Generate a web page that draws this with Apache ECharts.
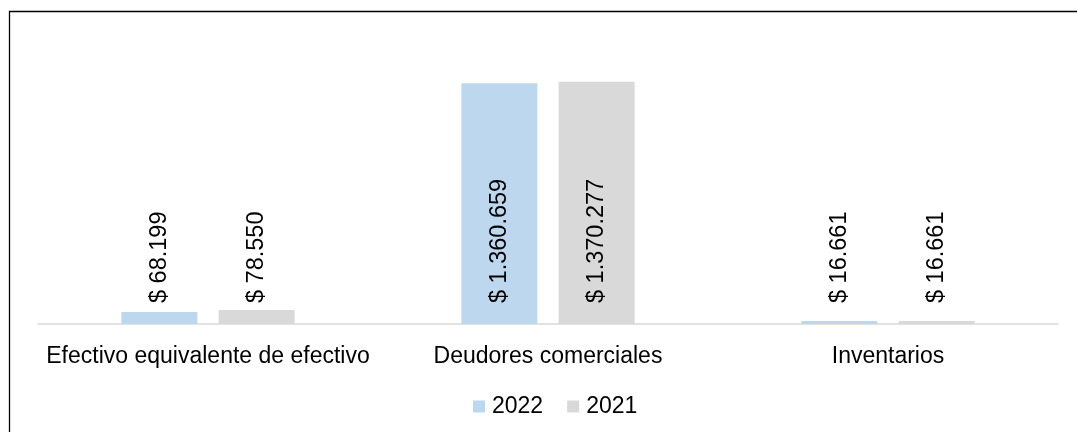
<!DOCTYPE html>
<html>
<head>
<meta charset="utf-8">
<script src="https://cdn.jsdelivr.net/npm/echarts@6/dist/echarts.min.js"></script>
<style>
html,body{margin:0;padding:0;background:#fff;}
#chart{width:1077px;height:432px;}
</style>
</head>
<body>
<div id="chart"></div>
<script>
const categories = ['Efectivo equivalente de efectivo', 'Deudores comerciales', 'Inventarios'];
const seriesNames = ['2022', '2021'];
const values2022 = [68199, 1360659, 16661];
const values2021 = [78550, 1370277, 16661];

function fmt(v) {
  return '$ ' + String(v).replace(/\B(?=(\d{3})+(?!\d))/g, '.');
}

const chart = echarts.init(document.getElementById('chart'), null, {renderer: 'canvas'});
const font = 'Liberation Sans, Arial, sans-serif';
const labelCfg = {
  show: true,
  position: 'insideBottom',
  distance: 21,
  rotate: 90,
  align: 'left',
  verticalAlign: 'middle',
  color: '#000',
  fontSize: 23.5,
  fontFamily: font,
  formatter: p => fmt(p.value)
};
chart.setOption({
  animation: false,
  backgroundColor: '#fff',
  graphic: [{
    type: 'rect',
    shape: {x: 9.5, y: 11.5, width: 1200, height: 600},
    style: {fill: 'none', stroke: '#000', lineWidth: 1.3},
    silent: true
  }],
  grid: {left: 38, right: 19, top: 41, bottom: 108},
  legend: {
    data: seriesNames,
    bottom: 9,
    left: 468,
    itemWidth: 12,
    itemHeight: 12,
    itemGap: 24,
    icon: 'rect',
    textStyle: {fontSize: 23, fontFamily: font, color: '#000', padding: [0, 0, 0, 2]}
  },
  xAxis: {
    type: 'category',
    data: categories,
    axisLine: {lineStyle: {color: '#D9D9D9', width: 1.5}},
    axisTick: {show: false},
    axisLabel: {interval: 0, fontSize: 23, fontFamily: font, color: '#000', margin: 21}
  },
  yAxis: {
    type: 'value',
    min: 0,
    max: 1600000,
    show: false,
    splitLine: {show: false}
  },
  series: [
    {name: seriesNames[0], type: 'bar', data: values2022, barWidth: 76, barGap: '28%',
     itemStyle: {color: '#BDD7EE'}, label: labelCfg},
    {name: seriesNames[1], type: 'bar', data: values2021, barWidth: 76, barGap: '28%',
     itemStyle: {color: '#D9D9D9'}, label: labelCfg}
  ]
});
</script>
</body>
</html>
